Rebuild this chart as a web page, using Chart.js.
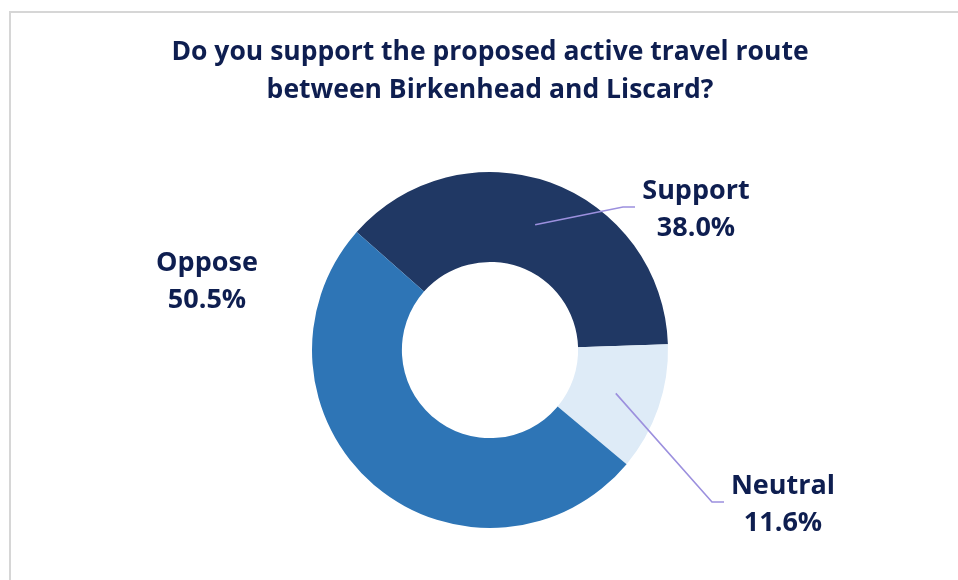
<!DOCTYPE html>
<html>
<head>
<meta charset="utf-8">
<script src="https://cdn.jsdelivr.net/npm/chart.js@4/dist/chart.umd.min.js"></script>
<style>
  html, body { margin: 0; padding: 0; background: #ffffff; overflow: hidden; }
  #frame {
    position: absolute; left: 9px; top: 11px;
    border-left: 2px solid #d6d6d6; border-top: 2px solid #d6d6d6;
    width: 958px; height: 570px;
  }
  canvas { display: block; }
</style>
</head>
<body>
<div id="frame"><canvas id="chart" width="958" height="570"></canvas></div>
<script>
// Survey answers and their shares (percent)
const categories = ['Support', 'Neutral', 'Oppose'];
const shares = [38.0, 11.6, 50.5];
const titleLines = ['Do you support the proposed active travel route', 'between Birkenhead and Liscard?'];

const sliceColors = ['#203864', '#DEEBF7', '#2E75B6'];
const textColor = '#0E1E50';
const leaderColor = '#9C90DE';
const labelFont = 'bold 27px "Open Sans"';

// Label placement relative to the doughnut centre; leader = [bendX, bendY, endX, endY]
const labelLayout = [
  { dx: 206, dy: -140, leader: [133, -143, 145, -143] },
  { dx: 293, dy: 155, leader: [222, 152, 234, 152] },
  { dx: -283, dy: -68, leader: null }
];

const calloutPlugin = {
  id: 'callouts',
  afterDatasetsDraw(chart) {
    const ctx = chart.ctx;
    const meta = chart.getDatasetMeta(0);
    meta.data.forEach((arc, i) => {
      const p = arc.getProps(['x', 'y', 'startAngle', 'endAngle', 'innerRadius', 'outerRadius'], true);
      const mid = (p.startAngle + p.endAngle) / 2;
      const rMid = (p.innerRadius + p.outerRadius) / 2;
      const lay = labelLayout[i];
      ctx.save();
      if (lay.leader) {
        ctx.strokeStyle = leaderColor;
        ctx.lineWidth = 1.6;
        ctx.beginPath();
        ctx.moveTo(p.x + Math.cos(mid) * rMid, p.y + Math.sin(mid) * rMid);
        ctx.lineTo(p.x + lay.leader[0], p.y + lay.leader[1]);
        ctx.lineTo(p.x + lay.leader[2], p.y + lay.leader[3]);
        ctx.stroke();
      }
      ctx.fillStyle = textColor;
      ctx.font = labelFont;
      ctx.textAlign = 'center';
      ctx.textBaseline = 'middle';
      const cx = p.x + lay.dx, cy = p.y + lay.dy;
      ctx.fillText(categories[i], cx, cy - 18.5);
      ctx.fillText(shares[i].toFixed(1) + '%', cx, cy + 18.5);
      ctx.restore();
    });
  }
};

new Chart(document.getElementById('chart'), {
  type: 'doughnut',
  data: {
    labels: categories,
    datasets: [{
      data: shares,
      backgroundColor: sliceColors,
      borderWidth: 0,
      hoverOffset: 0
    }]
  },
  options: {
    responsive: false,
    animation: false,
    rotation: -48.5,
    cutout: '49.5%',
    layout: { padding: { top: 0, bottom: 55, left: 0, right: 0 } },
    plugins: {
      legend: { display: false },
      tooltip: { enabled: false },
      title: {
        display: true,
        text: titleLines,
        color: textColor,
        font: { family: '"Open Sans"', size: 26.5, weight: 'bold', lineHeight: 1.434 },
        padding: { top: 20, bottom: 63 }
      }
    }
  },
  plugins: [calloutPlugin]
});
</script>
</body>
</html>
